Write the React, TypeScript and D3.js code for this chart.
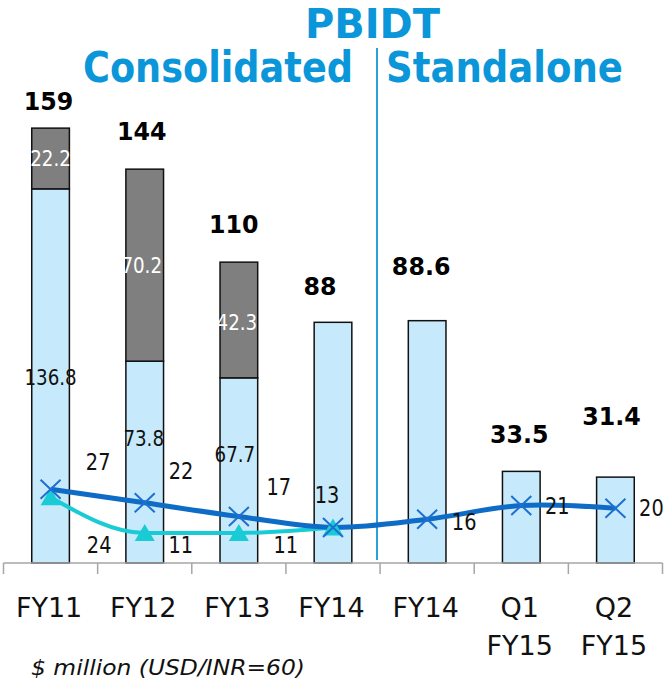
import React from "react";
import * as d3 from "d3";

// ---------- data ----------
const categories = ["FY11", "FY12", "FY13", "FY14", "FY14", "Q1 FY15", "Q2 FY15"];
const baseValues = [136.8, 73.8, 67.7, 88, 88.6, 33.5, 31.4];
const upperValues = [22.2, 70.2, 42.3, 0, 0, 0, 0];
const totalValues = [159, 144, 110, 88, 88.6, 33.5, 31.4];
const totalLabels = ["159", "144", "110", "88", "88.6", "33.5", "31.4"];
const baseLabels = ["136.8", "73.8", "67.7"];
const upperLabels = ["22.2", "70.2", "42.3"];
const marginValues = [27, 22, 17, 13, 16, 21, 20];
const marginLabels = ["27", "22", "17", "13", "16", "21", "20"];
const secondValues = [24, 11, 11, 13];
const secondLabels = ["24", "11", "11"];
const yDomain = [0, 200];

// ---------- layout (label nudges, px) ----------
const totalNudge = [[-2, -18], [-3, -29], [-5, -29], [-13, -27], [-6, -46], [-2, -28], [-4, -52]];
const baseNudge = [[0, 1.5], [-1, -24], [-4, -16]];
const upperNudge = [[0, 0], [-3, 0], [-2, 2]];
const marginNudge = [[47.6, -27.5], [36.4, -32], [40, -30], [-6, -33], [37, 3], [36, 0], [36, 0]];
const secondNudge = [[48.6, 48], [36, 12], [47, 12]];

const W = 670;
const H = 688;
const FONT = "'DejaVu Sans', Verdana, sans-serif";
const BLUE_TITLE = "#0a96d8";
const LIGHT = "#c6e9fb";
const GRAY = "#7f7f7f";
const DARK_LINE = "#0e6cc6";
const CYAN = "#19cbd5";

export default function App() {
  const idx = categories.map((_, i) => i);
  const x = d3
    .scaleBand<number>()
    .domain(idx)
    .range([3.5, 662.5])
    .paddingInner(0.6)
    .paddingOuter(0.3);
  const step = x.step();
  const x0 = x.range()[0];
  const cx = (i: number) => (x(i) as number) + x.bandwidth() / 2;
  const y = d3.scaleLinear().domain(yDomain).range([563, 16]);
  const axisY = y(0);

  const darkLine = d3
    .line<number>()
    .x((_, i) => cx(i))
    .y((d) => y(d))
    .curve(d3.curveCatmullRom.alpha(0.5));
  const cyanLine = d3
    .line<number>()
    .x((_, i) => cx(i))
    .y((d) => y(d))
    .curve(d3.curveMonotoneX);

  const squeezed = (
    key: string,
    tx: number,
    ty: number,
    txt: string,
    size: number,
    sx: number,
    fill: string,
    weight: string | number = "normal"
  ) => (
    <text
      key={key}
      transform={`translate(${tx},${ty}) scale(${sx},1)`}
      textAnchor="middle"
      dy="0.36em"
      fontFamily={FONT}
      fontSize={size}
      fontWeight={weight}
      fill={fill}
    >
      {txt}
    </text>
  );

  const boundaries = d3.range(categories.length + 1).map((i) => x0 + i * step);

  return (
    <svg
      width={W}
      height={H}
      viewBox={`0 0 ${W} ${H}`}
      style={{ position: "absolute", left: 0, top: 0, background: "#fff" }}
    >
      {/* titles */}
      <text x={372.5} y={37.5} textAnchor="middle" fontFamily={FONT} fontSize={40} fontWeight="bold" fill={BLUE_TITLE} textLength={135} lengthAdjust="spacingAndGlyphs">
        PBIDT
      </text>
      <text x={83} y={82} fontFamily={FONT} fontSize={42} fontWeight="bold" fill={BLUE_TITLE} textLength={270} lengthAdjust="spacingAndGlyphs">
        Consolidated
      </text>
      <text x={386} y={82} fontFamily={FONT} fontSize={42} fontWeight="bold" fill={BLUE_TITLE} textLength={237} lengthAdjust="spacingAndGlyphs">
        Standalone
      </text>

      {/* divider */}
      <line x1={377} x2={377} y1={48} y2={560} stroke="#2a9fd8" strokeWidth={2} />

      {/* bars */}
      {idx.map((i) => (
        <g key={`bar-${i}`}>
          <rect
            x={x(i)}
            y={y(baseValues[i])}
            width={x.bandwidth()}
            height={axisY - y(baseValues[i])}
            fill={LIGHT}
            stroke="#111"
            strokeWidth={1.5}
          />
          {upperValues[i] > 0 && (
            <rect
              x={x(i)}
              y={y(baseValues[i] + upperValues[i])}
              width={x.bandwidth()}
              height={y(baseValues[i]) - y(baseValues[i] + upperValues[i])}
              fill={GRAY}
              stroke="#111"
              strokeWidth={1.5}
            />
          )}
        </g>
      ))}

      {/* axis */}
      <line x1={boundaries[0]} x2={boundaries[boundaries.length - 1]} y1={axisY} y2={axisY} stroke="#a6a6a6" strokeWidth={1.5} />
      {boundaries.map((bx, i) => (
        <line key={`tk-${i}`} x1={bx} x2={bx} y1={axisY} y2={axisY + 11} stroke="#a6a6a6" strokeWidth={1.5} />
      ))}
      {categories.map((c, i) => {
        const lines = c.split(" ");
        return (
          <text key={`cat-${i}`} textAnchor="middle" fontFamily={FONT} fontSize={27} fill="#111">
            {lines.map((ln, k) => (
              <tspan key={k} x={cx(i) - 1.5} y={617 + k * 38}>
                {ln}
              </tspan>
            ))}
          </text>
        );
      })}

      {/* segment labels */}
      {baseLabels.map((t, i) =>
        squeezed(
          `bl-${i}`,
          cx(i) + baseNudge[i][0],
          (y(baseValues[i]) + axisY) / 2 + baseNudge[i][1],
          t,
          21,
          0.87,
          "#111"
        )
      )}
      {upperLabels.map((t, i) =>
        squeezed(
          `ul-${i}`,
          cx(i) + upperNudge[i][0],
          (y(baseValues[i]) + y(baseValues[i] + upperValues[i])) / 2 + upperNudge[i][1],
          t,
          21,
          0.87,
          "#fff"
        )
      )}

      {/* totals */}
      {totalLabels.map((t, i) => (
        <text
          key={`tot-${i}`}
          transform={`translate(${cx(i) + totalNudge[i][0]},${y(totalValues[i]) + totalNudge[i][1]}) scale(0.95,1)`}
          textAnchor="middle"
          fontFamily={FONT}
          fontSize={25}
          fontWeight="bold"
          fill="#000"
        >
          {t}
        </text>
      ))}

      {/* lines */}
      <path d={cyanLine(secondValues) || ""} fill="none" stroke={CYAN} strokeWidth={4} />
      <path d={darkLine(marginValues) || ""} fill="none" stroke={DARK_LINE} strokeWidth={5} />

      {secondValues.map((v, i) => {
        const px = cx(i);
        const py = y(v);
        return (
          <path
            key={`tri-${i}`}
            d={`M${px},${py - 9}L${px + 10},${py + 8}L${px - 10},${py + 8}Z`}
            fill={CYAN}
          />
        );
      })}
      {marginValues.map((v, i) => {
        const px = cx(i);
        const py = y(v);
        return (
          <path
            key={`x-${i}`}
            d={`M${px - 10},${py - 9.5}L${px + 10},${py + 9.5}M${px - 10},${py + 9.5}L${px + 10},${py - 9.5}`}
            stroke="#1d6fd0"
            strokeWidth={2}
            fill="none"
          />
        );
      })}

      {/* line labels */}
      {marginLabels.map((t, i) =>
        squeezed(`ml-${i}`, cx(i) + marginNudge[i][0], y(marginValues[i]) + marginNudge[i][1], t, 22.5, 0.86, "#111")
      )}
      {secondLabels.map((t, i) =>
        squeezed(`sl-${i}`, cx(i) + secondNudge[i][0], y(secondValues[i]) + secondNudge[i][1], t, 22.5, 0.86, "#111")
      )}

      {/* footnote */}
      <text x={31} y={675} fontFamily={FONT} fontSize={22} fontStyle="italic" fill="#111" textLength={274} lengthAdjust="spacingAndGlyphs">
        $ million (USD/INR=60)
      </text>
    </svg>
  );
}
